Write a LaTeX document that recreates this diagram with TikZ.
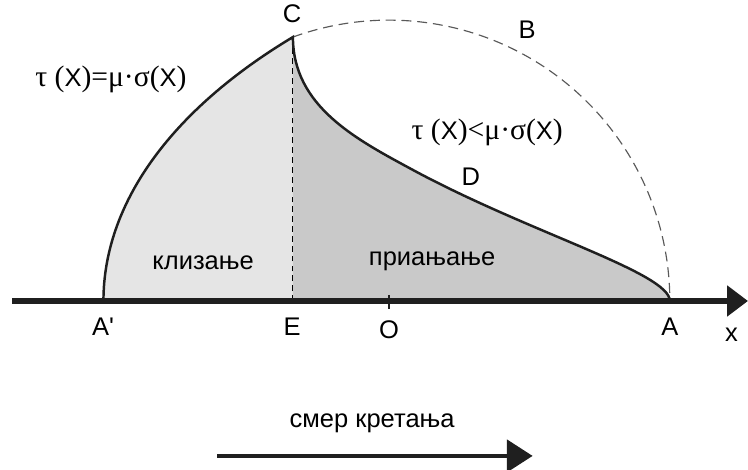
\documentclass[tikz,border=0pt]{standalone}
\usepackage{fontspec}
\setmainfont{Liberation Sans}
\newfontfamily\greekfont{Liberation Serif}
\usetikzlibrary{arrows.meta}
\definecolor{slipgray}{gray}{0.90}
\definecolor{stickgray}{gray}{0.79}
\definecolor{inkgray}{gray}{0.12}
\newcommand{\grk}[1]{{\greekfont\fontsize{18}{20}\selectfont #1}}
\newcommand{\ex}{{\fontsize{15.5}{18}\selectfont X}}

\begin{document}
\begin{tikzpicture}[
    lbl/.style={font=\fontsize{15.5}{18}\selectfont, inner sep=0pt},
    curve/.style={line width=1.5pt, inkgray},
    axis/.style={line width=3.6pt, inkgray, -{Triangle[length=12.7pt, width=18.2pt]}},
    move/.style={line width=2.8pt, inkgray, -{Triangle[length=15.7pt, width=19.4pt]}},
  ]
    \useasboundingbox (-8.31,-3.61) rectangle (7.67,6.43);
    \coordinate (O) at (0,0);
    \coordinate (A) at (6,0);
    \coordinate (Ap) at (-6.1,0);
    \coordinate (C) at (110:6);
    \coordinate (E) at (C |- O);
    \coordinate (Dp) at (0.51,2.80);
    \coordinate (xl) at (-8.05,0);
    \coordinate (xr) at (7.67,0);
    \coordinate (m1) at (-3.67,-3.31);
    \coordinate (m2) at (3.07,-3.31);
    % slip and stick zones
    \fill[slipgray] (Ap) .. controls (-6.1,2.05) and (-4.7,4.05) .. (C) -- (E) -- cycle;
    \fill[stickgray] (E) -- (C) .. controls (-2.05,4.15) and (-0.69,3.45) .. (Dp)
        .. controls (3.01,1.45) and (6,0.6) .. (A) -- cycle;
    \draw[gray!70!black, dash pattern=on 6pt off 3.6pt, line width=0.7pt] (C) arc[start angle=110, end angle=0, radius=6];
    \draw[dash pattern=on 3.5pt off 2.5pt, line width=0.6pt] (E) -- (C);
    \draw[curve] (Ap) .. controls (-6.1,2.05) and (-4.7,4.05) .. (C)
        .. controls (-2.05,4.15) and (-0.69,3.45) .. (Dp)
        .. controls (3.01,1.45) and (6,0.6) .. (A);
    \draw[axis] (xl) -- (xr);
    \draw[line width=1.2pt, inkgray] (0,0.13) -- (0,-0.17);
    % labels
    \node[lbl] (lC) at (-2.07,6.13) {C};
    \node[lbl] (lB) at (2.95,5.79) {B};
    \node[lbl] (lD) at (1.75,2.65) {D};
    \node[lbl] (lAp) at (-6.11,-0.555) {A\textquotesingle};
    \node[lbl] (lE) at (-2.07,-0.555) {E};
    \node[lbl] (lO) at (0,-0.62) {O};
    \node[lbl] (lA) at (6.0,-0.555) {A};
    \node[lbl] (lx) at (7.32,-0.72) {x};
    \node[lbl] (slip) at (-3.97,0.82) {клизање};
    \node[lbl] (stick) at (0.92,0.84) {приањање};
    \node[lbl] (eqL) at (-5.94,4.74) {\grk{τ (}\ex\grk{)=μ·σ(}\ex\grk{)}};
    \node[lbl] (eqR) at (2.10,3.61) {\grk{τ (}\ex\grk{)<μ·σ(}\ex\grk{)}};
    \node[lbl] (dir) at (-0.36,-2.61) {смер кретања};
    \draw[move] (m1) -- (m2);
\end{tikzpicture}
\end{document}
